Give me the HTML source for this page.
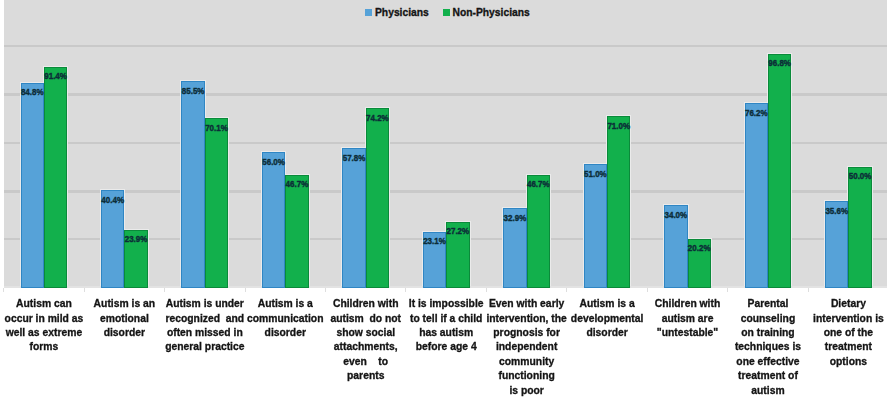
<!DOCTYPE html>
<html><head><meta charset="utf-8"><style>
html,body{margin:0;padding:0;}
#wrap{position:absolute;left:0;top:0;width:889px;height:399px;background:#fff;filter:blur(0.6px);}
body{width:889px;height:399px;overflow:hidden;background:#fff;position:relative;font-family:"Liberation Sans",sans-serif;}
#plot{position:absolute;left:3.7px;top:0;width:883.5px;height:288.3px;background:#dbdbdb;}
.g{position:absolute;left:3.7px;width:883.5px;height:2.6px;background:#c9c9c9;}
.t{position:absolute;top:288.3px;width:1px;height:3.5px;background:#dedede;}
#axis{position:absolute;left:3.7px;top:286.2px;width:883.5px;height:2.1px;background:#e3e3e3;}
.bar{position:absolute;box-sizing:border-box;}
.halo{position:absolute;background:#ebebeb;}
.b{background:#56a2d8;border:1px solid #2f86c4;}
.n{background:#12b04c;border:1px solid #0a8a3a;}
.v{position:absolute;height:10px;line-height:10px;transform:scaleY(1.12);-webkit-text-stroke:0.35px #0c2d38;text-align:center;font-size:8px;font-weight:bold;color:#0c2d38;}
.c{position:absolute;width:90px;height:12px;text-align:center;font-size:10.35px;line-height:12px;transform:scaleY(1.1);transform-origin:50% 9.421px;font-weight:bold;color:#141414;white-space:nowrap;-webkit-text-stroke:0.3px #141414;}
#leg{position:absolute;top:4px;left:0;width:889px;height:16px;font-size:10.3px;font-weight:bold;color:#141414;-webkit-text-stroke:0.3px #141414;}
.sq{position:absolute;width:7px;height:7px;top:4.6px;}
.lt{position:absolute;top:0.5px;line-height:16px;transform:scaleY(1.12);transform-origin:50% 11.5px;}
</style></head><body><div id="wrap">
<div id="plot"></div>
<div class="g" style="top:44.70px"></div><div class="g" style="top:93.40px"></div><div class="g" style="top:141.60px"></div><div class="g" style="top:190.10px"></div><div class="g" style="top:237.60px"></div>
<div id="axis"></div>
<div class="t" style="left:3.20px"></div><div class="t" style="left:83.65px"></div><div class="t" style="left:164.10px"></div><div class="t" style="left:244.55px"></div><div class="t" style="left:325.00px"></div><div class="t" style="left:405.45px"></div><div class="t" style="left:485.90px"></div><div class="t" style="left:566.35px"></div><div class="t" style="left:646.80px"></div><div class="t" style="left:727.25px"></div><div class="t" style="left:807.70px"></div><div class="halo" style="left:19.58px;top:81.51px;width:25.35px;height:204.49px"></div><div class="halo" style="left:42.93px;top:65.57px;width:25.35px;height:220.43px"></div><div class="bar b" style="left:20.58px;top:82.51px;width:23.35px;height:205.49px"></div><div class="bar n" style="left:43.93px;top:66.57px;width:23.35px;height:221.43px"></div><div class="v" style="left:10.58px;top:88.31px;width:43.35px">84.8%</div><div class="v" style="left:33.93px;top:72.37px;width:43.35px">91.4%</div><div class="c" style="left:-1.07px;top:298.08px">Autism can</div><div class="c" style="left:-1.07px;top:312.55px">occur in mild as</div><div class="c" style="left:-1.07px;top:327.02px">well as extreme</div><div class="c" style="left:-1.07px;top:341.49px">forms</div><div class="halo" style="left:100.03px;top:188.73px;width:25.35px;height:97.27px"></div><div class="halo" style="left:123.38px;top:228.58px;width:25.35px;height:57.42px"></div><div class="bar b" style="left:101.03px;top:189.73px;width:23.35px;height:98.27px"></div><div class="bar n" style="left:124.38px;top:229.58px;width:23.35px;height:58.42px"></div><div class="v" style="left:91.03px;top:195.53px;width:43.35px">40.4%</div><div class="v" style="left:114.38px;top:235.38px;width:43.35px">23.9%</div><div class="c" style="left:79.38px;top:298.08px">Autism is an</div><div class="c" style="left:79.38px;top:312.55px">emotional</div><div class="c" style="left:79.38px;top:327.02px">disorder</div><div class="halo" style="left:180.47px;top:79.82px;width:25.35px;height:206.18px"></div><div class="halo" style="left:203.82px;top:117.01px;width:25.35px;height:168.99px"></div><div class="bar b" style="left:181.47px;top:80.82px;width:23.35px;height:207.18px"></div><div class="bar n" style="left:204.82px;top:118.01px;width:23.35px;height:169.99px"></div><div class="v" style="left:171.47px;top:86.62px;width:43.35px">85.5%</div><div class="v" style="left:194.82px;top:123.81px;width:43.35px">70.1%</div><div class="c" style="left:159.82px;top:298.08px">Autism is under</div><div class="c" style="left:159.82px;top:312.55px">recognized&nbsp; and</div><div class="c" style="left:159.82px;top:327.02px">often missed in</div><div class="c" style="left:159.82px;top:341.49px">general practice</div><div class="halo" style="left:260.92px;top:151.06px;width:25.35px;height:134.94px"></div><div class="halo" style="left:284.27px;top:173.52px;width:25.35px;height:112.48px"></div><div class="bar b" style="left:261.92px;top:152.06px;width:23.35px;height:135.94px"></div><div class="bar n" style="left:285.27px;top:174.52px;width:23.35px;height:113.48px"></div><div class="v" style="left:251.92px;top:157.86px;width:43.35px">56.0%</div><div class="v" style="left:275.27px;top:180.32px;width:43.35px">46.7%</div><div class="c" style="left:240.27px;top:298.08px">Autism is a</div><div class="c" style="left:240.27px;top:312.55px">communication</div><div class="c" style="left:240.27px;top:327.02px">disorder</div><div class="halo" style="left:341.38px;top:146.71px;width:25.35px;height:139.29px"></div><div class="halo" style="left:364.73px;top:107.11px;width:25.35px;height:178.89px"></div><div class="bar b" style="left:342.38px;top:147.71px;width:23.35px;height:140.29px"></div><div class="bar n" style="left:365.73px;top:108.11px;width:23.35px;height:179.89px"></div><div class="v" style="left:332.38px;top:153.51px;width:43.35px">57.8%</div><div class="v" style="left:355.73px;top:113.91px;width:43.35px">74.2%</div><div class="c" style="left:320.73px;top:298.08px">Children with</div><div class="c" style="left:320.73px;top:312.55px">autism&nbsp; do not</div><div class="c" style="left:320.73px;top:327.02px">show social</div><div class="c" style="left:320.73px;top:341.49px">attachments,</div><div class="c" style="left:320.73px;top:355.96px">even&nbsp;&nbsp;&nbsp; to</div><div class="c" style="left:320.73px;top:370.43px">parents</div><div class="halo" style="left:421.82px;top:230.51px;width:25.35px;height:55.49px"></div><div class="halo" style="left:445.18px;top:220.61px;width:25.35px;height:65.39px"></div><div class="bar b" style="left:422.82px;top:231.51px;width:23.35px;height:56.49px"></div><div class="bar n" style="left:446.18px;top:221.61px;width:23.35px;height:66.39px"></div><div class="v" style="left:412.82px;top:237.31px;width:43.35px">23.1%</div><div class="v" style="left:436.18px;top:227.41px;width:43.35px">27.2%</div><div class="c" style="left:401.18px;top:298.08px">It is impossible</div><div class="c" style="left:401.18px;top:312.55px">to tell if a child</div><div class="c" style="left:401.18px;top:327.02px">has autism</div><div class="c" style="left:401.18px;top:341.49px">before age 4</div><div class="halo" style="left:502.28px;top:206.85px;width:25.35px;height:79.15px"></div><div class="halo" style="left:525.63px;top:173.52px;width:25.35px;height:112.48px"></div><div class="bar b" style="left:503.28px;top:207.85px;width:23.35px;height:80.15px"></div><div class="bar n" style="left:526.63px;top:174.52px;width:23.35px;height:113.48px"></div><div class="v" style="left:493.28px;top:213.65px;width:43.35px">32.9%</div><div class="v" style="left:516.63px;top:180.32px;width:43.35px">46.7%</div><div class="c" style="left:481.63px;top:298.08px">Even with early</div><div class="c" style="left:481.63px;top:312.55px">intervention, the</div><div class="c" style="left:481.63px;top:327.02px">prognosis for</div><div class="c" style="left:481.63px;top:341.49px">independent</div><div class="c" style="left:481.63px;top:355.96px">community</div><div class="c" style="left:481.63px;top:370.43px">functioning</div><div class="c" style="left:481.63px;top:384.90px">is poor</div><div class="halo" style="left:582.73px;top:163.13px;width:25.35px;height:122.87px"></div><div class="halo" style="left:606.08px;top:114.84px;width:25.35px;height:171.16px"></div><div class="bar b" style="left:583.73px;top:164.13px;width:23.35px;height:123.87px"></div><div class="bar n" style="left:607.08px;top:115.84px;width:23.35px;height:172.16px"></div><div class="v" style="left:573.73px;top:169.94px;width:43.35px">51.0%</div><div class="v" style="left:597.08px;top:121.64px;width:43.35px">71.0%</div><div class="c" style="left:562.08px;top:298.08px">Autism is a</div><div class="c" style="left:562.08px;top:312.55px">developmental</div><div class="c" style="left:562.08px;top:327.02px">disorder</div><div class="halo" style="left:663.18px;top:204.19px;width:25.35px;height:81.81px"></div><div class="halo" style="left:686.53px;top:237.52px;width:25.35px;height:48.48px"></div><div class="bar b" style="left:664.18px;top:205.19px;width:23.35px;height:82.81px"></div><div class="bar n" style="left:687.53px;top:238.52px;width:23.35px;height:49.48px"></div><div class="v" style="left:654.18px;top:210.99px;width:43.35px">34.0%</div><div class="v" style="left:677.53px;top:244.32px;width:43.35px">20.2%</div><div class="c" style="left:642.53px;top:298.08px">Children with</div><div class="c" style="left:642.53px;top:312.55px">autism are</div><div class="c" style="left:642.53px;top:327.02px">"untestable"</div><div class="halo" style="left:743.62px;top:102.28px;width:25.35px;height:183.72px"></div><div class="halo" style="left:766.98px;top:52.53px;width:25.35px;height:233.47px"></div><div class="bar b" style="left:744.62px;top:103.28px;width:23.35px;height:184.72px"></div><div class="bar n" style="left:767.98px;top:53.53px;width:23.35px;height:234.47px"></div><div class="v" style="left:734.62px;top:109.08px;width:43.35px">76.2%</div><div class="v" style="left:757.98px;top:59.33px;width:43.35px">96.8%</div><div class="c" style="left:722.98px;top:298.08px">Parental</div><div class="c" style="left:722.98px;top:312.55px">counseling</div><div class="c" style="left:722.98px;top:327.02px">on training</div><div class="c" style="left:722.98px;top:341.49px">techniques is</div><div class="c" style="left:722.98px;top:355.96px">one effective</div><div class="c" style="left:722.98px;top:370.43px">treatment of</div><div class="c" style="left:722.98px;top:384.90px">autism</div><div class="halo" style="left:824.08px;top:200.33px;width:25.35px;height:85.67px"></div><div class="halo" style="left:847.43px;top:165.55px;width:25.35px;height:120.45px"></div><div class="bar b" style="left:825.08px;top:201.33px;width:23.35px;height:86.67px"></div><div class="bar n" style="left:848.43px;top:166.55px;width:23.35px;height:121.45px"></div><div class="v" style="left:815.08px;top:207.13px;width:43.35px">35.6%</div><div class="v" style="left:838.43px;top:172.35px;width:43.35px">50.0%</div><div class="c" style="left:803.43px;top:298.08px">Dietary</div><div class="c" style="left:803.43px;top:312.55px">intervention is</div><div class="c" style="left:803.43px;top:327.02px">one of the</div><div class="c" style="left:803.43px;top:341.49px">treatment</div><div class="c" style="left:803.43px;top:355.96px">options</div>
<div id="leg"><div class="sq" style="left:365px;background:#56a2d8"></div><div class="lt" style="left:375px">Physicians</div><div class="sq" style="left:443px;background:#12b04c"></div><div class="lt" style="left:452.5px">Non-Physicians</div></div>
</div></body></html>
